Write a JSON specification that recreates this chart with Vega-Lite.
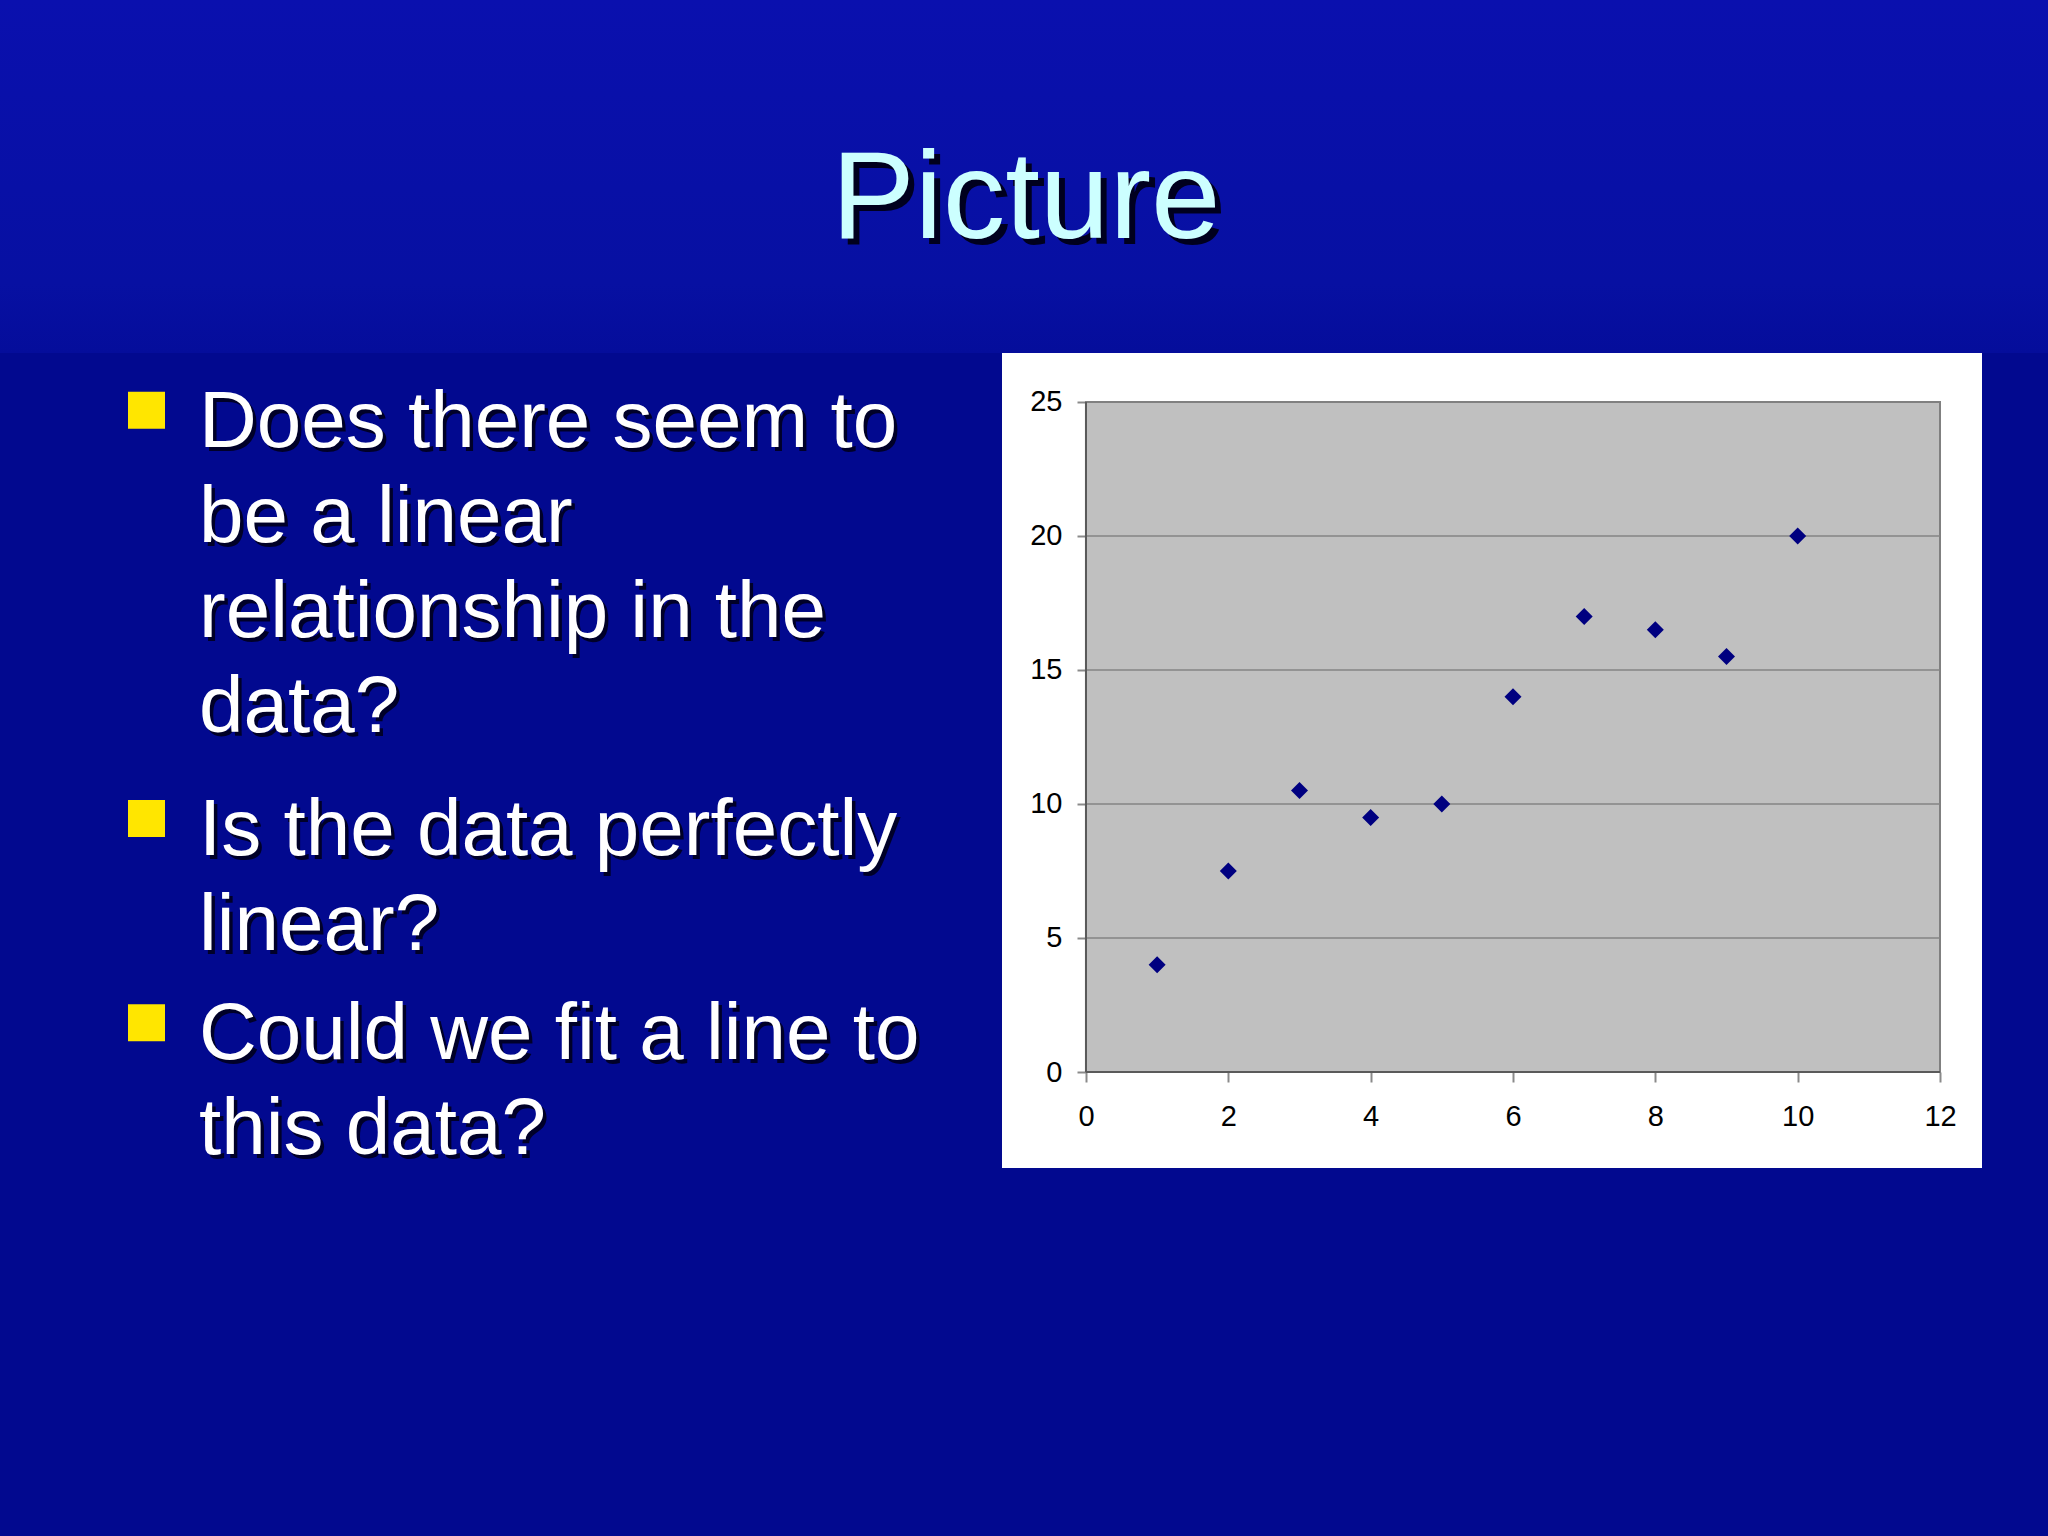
{
  "$schema": "https://vega.github.io/schema/vega-lite/v6.json",
  "background": "#02098f",
  "autosize": {"type": "none"},
  "padding": {"left": 0, "top": 0, "right": 2048, "bottom": 1536},
  "bounds": "flush",
  "spacing": 0,
  "datasets": {
    "points": [
      {"x": 1, "y": 4},
      {"x": 2, "y": 7.5},
      {"x": 3, "y": 10.5},
      {"x": 4, "y": 9.5},
      {"x": 5, "y": 10},
      {"x": 6, "y": 14},
      {"x": 7, "y": 17},
      {"x": 8, "y": 16.5},
      {"x": 9, "y": 15.5},
      {"x": 10, "y": 20}
    ],
    "grid": [{"v": 5}, {"v": 10}, {"v": 15}, {"v": 20}],
    "bullets": [
      {"start": 1, "lines": ["Does there seem to", "be a linear", "relationship in the", "data?"]},
      {"start": 5, "lines": ["Is the data perfectly", "linear?"]},
      {"start": 7, "lines": ["Could we fit a line to", "this data?"]}
    ]
  },
  "vconcat": [
    {
      "width": 2048,
      "height": 353,
      "view": {
        "stroke": null,
        "fill": {
          "gradient": "linear",
          "x1": 0, "y1": 0, "x2": 0, "y2": 1,
          "stops": [
            {"offset": 0, "color": "#0a10ae"},
            {"offset": 0.8, "color": "#0710a2"},
            {"offset": 1, "color": "#050d9b"}
          ]
        }
      },
      "data": {"values": [{"label": "Picture"}]},
      "layer": [
        {
          "mark": {"type": "text", "font": "Liberation Sans", "fontSize": 125, "align": "center", "baseline": "alphabetic", "fill": "#00001e", "dx": 8, "dy": 67.5},
          "encoding": {"text": {"field": "label"}}
        },
        {
          "mark": {"type": "text", "font": "Liberation Sans", "fontSize": 125, "align": "center", "baseline": "alphabetic", "fill": "#ccffff", "dx": 2, "dy": 61.5},
          "encoding": {"text": {"field": "label"}}
        }
      ]
    },
    {
      "bounds": "flush",
      "spacing": 709,
      "hconcat": [
        {
          "width": 293,
          "height": 850,
          "view": {"stroke": null},
          "data": {"name": "bullets"},
          "encoding": {
            "y": {"field": "start", "type": "quantitative", "scale": {"domain": [0.4398, 8.765], "reverse": true, "nice": false, "zero": false}, "axis": null}
          },
          "layer": [
            {
              "mark": {"type": "text", "font": "Liberation Sans", "fontSize": 80, "lineHeight": 95, "align": "left", "baseline": "alphabetic", "fill": "#000028", "dx": 56, "dy": 40.5},
              "encoding": {"text": {"field": "lines"}}
            },
            {
              "mark": {"type": "text", "font": "Liberation Sans", "fontSize": 80, "lineHeight": 95, "align": "left", "baseline": "alphabetic", "fill": "#ffffff", "dx": 52.5, "dy": 36.5},
              "encoding": {"text": {"field": "lines"}}
            },
            {
              "mark": {"type": "point", "shape": "square", "filled": true, "fill": "#ffe600", "opacity": 1, "size": 1369, "strokeWidth": 0}
            }
          ]
        },
        {
          "width": 980,
          "height": 815,
          "view": {"stroke": null, "fill": "#ffffff"},
          "layer": [
            {
              "data": {"values": [{}]},
              "mark": {"type": "rect", "fill": "#c0c0c0", "stroke": "#808080", "strokeWidth": 2},
              "encoding": {
                "x": {"datum": 0, "type": "quantitative", "scale": {"domain": [-1.18, 12.59], "nice": false, "zero": false}, "title": null},
                "x2": {"datum": 12},
                "y": {"datum": 0, "type": "quantitative", "scale": {"domain": [-3.582, 26.828], "nice": false, "zero": false}, "title": null},
                "y2": {"datum": 25}
              }
            },
            {
              "data": {"name": "grid"},
              "mark": {"type": "rule", "color": "#848484", "strokeWidth": 1.5},
              "encoding": {
                "x": {"datum": 0, "type": "quantitative", "title": null},
                "x2": {"datum": 12},
                "y": {"field": "v", "type": "quantitative", "title": null}
              }
            },
            {
              "data": {"values": [{}]},
              "mark": {"type": "rule", "color": "#5a5a5a", "strokeWidth": 2},
              "encoding": {
                "x": {"datum": 0, "type": "quantitative", "title": null},
                "y": {"datum": 0, "type": "quantitative", "title": null},
                "y2": {"datum": 25}
              }
            },
            {
              "data": {"values": [{}]},
              "mark": {"type": "rule", "color": "#5a5a5a", "strokeWidth": 2},
              "encoding": {
                "x": {"datum": 0, "type": "quantitative", "title": null},
                "x2": {"datum": 12},
                "y": {"datum": 0, "type": "quantitative", "title": null}
              }
            },
            {
              "data": {"name": "points"},
              "mark": {"type": "point", "shape": "diamond", "filled": true, "fill": "#000080", "opacity": 1, "size": 289, "strokeWidth": 0},
              "encoding": {
                "x": {
                  "field": "x", "type": "quantitative", "title": null,
                  "axis": {"values": [0, 2, 4, 6, 8, 10, 12], "format": "d", "offset": -96}
                },
                "y": {
                  "field": "y", "type": "quantitative", "title": null,
                  "axis": {"values": [0, 5, 10, 15, 20, 25], "format": "d", "offset": -84}
                }
              }
            }
          ]
        }
      ]
    }
  ],
  "config": {
    "axisX": {
      "grid": false, "domain": false,
      "labelFlush": false, "labelFont": "Liberation Sans", "labelFontSize": 29, "labelColor": "#000000", "labelPadding": 20,
      "tickColor": "#8a8a8a", "tickWidth": 2, "tickSize": 10
    },
    "axisY": {
      "grid": false, "domain": false,
      "labelFlush": false, "labelFont": "Liberation Sans", "labelFontSize": 29, "labelColor": "#000000", "labelPadding": 15,
      "tickColor": "#8a8a8a", "tickWidth": 2, "tickSize": 9
    }
  }
}
